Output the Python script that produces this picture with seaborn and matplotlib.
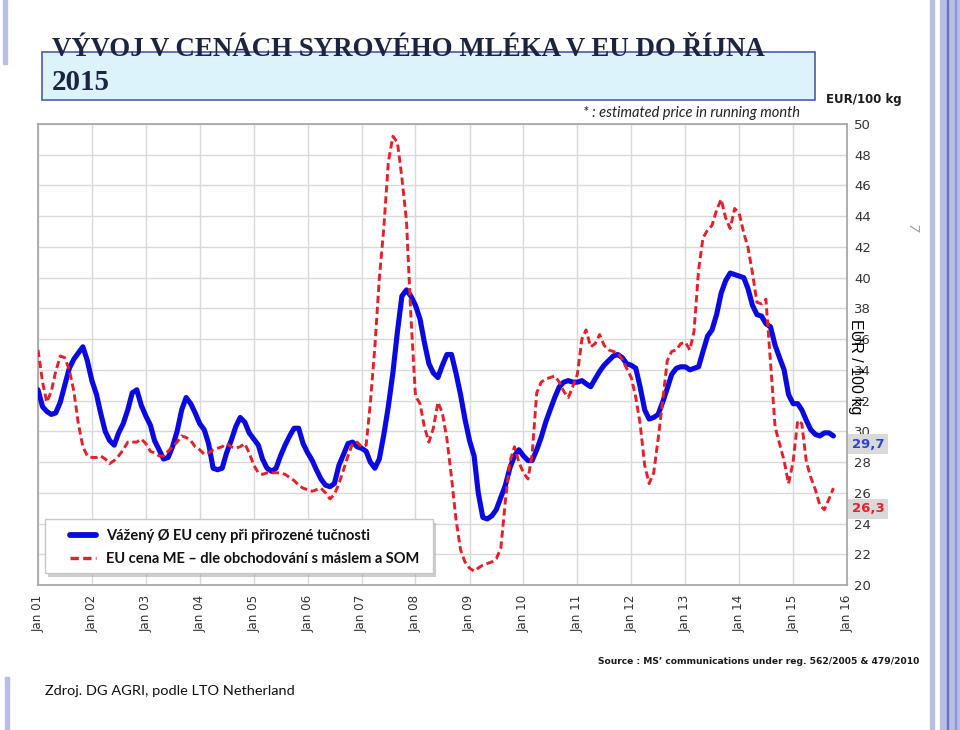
import numpy as np
import pandas as pd
import matplotlib
matplotlib.use("Agg")
import matplotlib.pyplot as plt
import seaborn as sns
from matplotlib.patches import Rectangle
from matplotlib.lines import Line2D
from matplotlib.font_manager import FontProperties

# ---------------- data (EUR / 100 kg, monthly, Jan 2001 - Oct 2015) ----------------
blue_2001 = [32.7, 31.6, 31.3, 31.1, 31.2, 31.9, 33.0, 34.1, 34.7, 35.1, 35.5, 34.6]
blue_2002 = [33.3, 32.4, 31.2, 30.0, 29.4, 29.1, 29.9, 30.5, 31.4, 32.5, 32.7, 31.7]
blue_2003 = [31.0, 30.4, 29.4, 28.8, 28.2, 28.3, 29.0, 30.0, 31.4, 32.2, 31.8, 31.2]
blue_2004 = [30.5, 30.1, 29.2, 27.6, 27.5, 27.6, 28.6, 29.4, 30.3, 30.9, 30.6, 29.9]
blue_2005 = [29.5, 29.1, 28.2, 27.6, 27.4, 27.6, 28.4, 29.1, 29.7, 30.2, 30.2, 29.2]
blue_2006 = [28.6, 28.1, 27.5, 26.9, 26.5, 26.4, 26.6, 27.8, 28.5, 29.2, 29.3, 29.0]
blue_2007 = [28.9, 28.7, 28.0, 27.6, 28.2, 29.8, 31.6, 33.8, 36.5, 38.8, 39.2, 38.8]
blue_2008 = [38.2, 37.3, 35.8, 34.4, 33.8, 33.5, 34.3, 35.0, 35.0, 33.8, 32.4, 30.8]
blue_2009 = [29.4, 28.4, 26.0, 24.4, 24.3, 24.5, 24.9, 25.7, 26.5, 27.6, 28.4, 28.8]
blue_2010 = [28.4, 28.1, 28.1, 28.8, 29.6, 30.6, 31.4, 32.2, 32.9, 33.2, 33.3, 33.2]
blue_2011 = [33.2, 33.3, 33.1, 32.9, 33.4, 33.9, 34.3, 34.6, 34.9, 35.0, 34.8, 34.4]
blue_2012 = [34.3, 34.1, 32.9, 31.4, 30.8, 30.9, 31.1, 31.9, 32.8, 33.7, 34.1, 34.2]
blue_2013 = [34.2, 34.0, 34.1, 34.2, 35.2, 36.2, 36.6, 37.6, 39.0, 39.8, 40.3, 40.2]
blue_2014 = [40.1, 40.0, 39.3, 38.2, 37.6, 37.5, 37.0, 36.8, 35.6, 34.8, 34.0, 32.4]
blue_2015 = [31.8, 31.8, 31.4, 30.7, 30.1, 29.8, 29.7, 29.9, 29.9, 29.7]

red_2001 = [35.3, 33.2, 31.9, 32.6, 33.9, 34.9, 34.8, 34.0, 32.6, 30.5, 29.0, 28.4]
red_2002 = [28.3, 28.3, 28.4, 28.2, 27.9, 28.1, 28.4, 28.8, 29.3, 29.3, 29.3, 29.5]
red_2003 = [29.2, 28.7, 28.6, 28.4, 28.4, 28.7, 29.0, 29.3, 29.7, 29.6, 29.4, 29.0]
red_2004 = [28.8, 28.5, 28.6, 28.8, 28.9, 29.0, 29.2, 29.0, 28.9, 29.0, 29.2, 28.6]
red_2005 = [27.8, 27.3, 27.2, 27.3, 27.3, 27.3, 27.3, 27.2, 27.0, 26.8, 26.5, 26.3]
red_2006 = [26.2, 26.1, 26.2, 26.3, 26.0, 25.6, 25.9, 26.6, 27.5, 28.4, 29.2, 29.3]
red_2007 = [29.0, 29.1, 31.8, 35.5, 39.9, 43.3, 47.5, 49.2, 48.8, 46.5, 43.7, 37.5]
red_2008 = [32.3, 31.8, 30.3, 29.3, 30.2, 31.9, 31.2, 29.5, 27.0, 24.3, 22.3, 21.5]
red_2009 = [21.1, 20.9, 21.1, 21.3, 21.4, 21.5, 21.7, 22.4, 25.5, 28.0, 29.0, 28.0]
red_2010 = [27.3, 26.9, 28.5, 32.5, 33.2, 33.4, 33.5, 33.6, 33.2, 32.6, 32.2, 32.9]
red_2011 = [33.7, 36.0, 36.6, 35.5, 35.7, 36.3, 35.6, 35.3, 35.2, 35.1, 34.7, 34.1]
red_2012 = [33.5, 32.2, 30.5, 27.8, 26.6, 27.3, 29.5, 32.0, 34.6, 35.2, 35.3, 35.7]
red_2013 = [35.8, 35.3, 36.5, 40.5, 42.6, 43.1, 43.4, 44.4, 45.1, 43.9, 43.2, 44.5]
red_2014 = [44.2, 42.9, 42.0, 40.3, 38.4, 38.3, 38.6, 34.5, 30.3, 29.2, 28.1, 26.6]
red_2015 = [28.0, 30.7, 30.5, 28.0, 27.0, 26.2, 25.2, 24.9, 25.6, 26.3]

blue = (blue_2001 + blue_2002 + blue_2003 + blue_2004 + blue_2005 + blue_2006 + blue_2007 +
        blue_2008 + blue_2009 + blue_2010 + blue_2011 + blue_2012 + blue_2013 + blue_2014 + blue_2015)
red = (red_2001 + red_2002 + red_2003 + red_2004 + red_2005 + red_2006 + red_2007 +
       red_2008 + red_2009 + red_2010 + red_2011 + red_2012 + red_2013 + red_2014 + red_2015)

x_labels = ["Jan 01", "Jan 02", "Jan 03", "Jan 04", "Jan 05", "Jan 06", "Jan 07", "Jan 08",
            "Jan 09", "Jan 10", "Jan 11", "Jan 12", "Jan 13", "Jan 14", "Jan 15", "Jan 16"]
y_ticks = [20, 22, 24, 26, 28, 30, 32, 34, 36, 38, 40, 42, 44, 46, 48, 50]
legend_labels = ["Vážený Ø EU ceny při přirozené tučnosti",
                 "EU cena ME – dle obchodování s máslem a SOM"]
last_blue_label = "29,7"
last_red_label = "26,3"

months = pd.date_range("2001-01-01", periods=len(blue), freq="MS")
df = pd.DataFrame({"date": months, "blue": blue, "red": red})

# ---------------- style ----------------
sns.set_theme(style="white")
plt.rcParams["font.family"] = ["DejaVu Sans"]

W, H = 960, 730
fig = plt.figure(figsize=(W / 100, H / 100), dpi=100)
fig.patch.set_facecolor("white")


def fx(x):
    return x / W


def fy(y):
    return 1 - y / H


BLUE = "#0A0AE0"
RED = "#E3202B"
RED_DASH = (0, (2.5, 1.3))

ax = fig.add_axes([fx(38), fy(585), (847 - 38) / W, (585 - 124) / H])
sns.lineplot(data=df, x="date", y="blue", ax=ax, color=BLUE, lw=3.7,
             solid_capstyle="round", solid_joinstyle="round", zorder=3)
sns.lineplot(data=df, x="date", y="red", ax=ax, color=RED, lw=2.1,
             linestyle=RED_DASH, zorder=4)

ax.set_xlim(pd.Timestamp("2001-01-01"), pd.Timestamp("2016-01-01"))
ax.set_ylim(20, 50)
ax.set_xticks(pd.date_range("2001-01-01", "2016-01-01", freq="YS"))
ax.set_xticklabels(x_labels, rotation=90, fontsize=8.6, color="#333333")
ax.set_yticks(y_ticks)
ax.set_yticklabels([str(v) for v in y_ticks], fontsize=9.5, color="#333333")
ax.yaxis.tick_right()
ax.tick_params(axis="both", length=0)
ax.tick_params(axis="x", pad=7)
ax.tick_params(axis="y", pad=5)
ax.grid(True, color="#D9D9D9", lw=1.0)
ax.set_xlabel("")
ax.set_ylabel("")
for s in ax.spines.values():
    s.set_color("#A8A8A8")
    s.set_linewidth(1.3)
if ax.get_legend() is not None:
    ax.get_legend().remove()

renderer = fig.canvas.get_renderer()


def fit(t, width_px):
    bb = t.get_window_extent(renderer)
    t.set_fontsize(t.get_fontsize() * width_px / bb.width)


# ---------------- decorations ----------------
fig.patches.append(Rectangle((fx(930), 0), 4 / W, 1, transform=fig.transFigure,
                             color="#B8BEE4", zorder=0))
fig.patches.append(Rectangle((fx(940), 0), 20 / W, 1, transform=fig.transFigure,
                             color="#B8BEE4", zorder=0))
fig.patches.append(Rectangle((fx(946.5), 0), 1.8 / W, 1, transform=fig.transFigure,
                             color="#6A72C6", zorder=0))
fig.patches.append(Rectangle((fx(955), 0), 1.2 / W, 1, transform=fig.transFigure,
                             color="#8E95D8", zorder=0))
fig.patches.append(Rectangle((fx(3), fy(64)), 4 / W, 64 / H, transform=fig.transFigure,
                             color="#B8BEE4", zorder=0))
fig.patches.append(Rectangle((fx(5), 0), 4 / W, 53 / H, transform=fig.transFigure,
                             color="#B8BEE4", zorder=0))

# title box
fig.patches.append(Rectangle((fx(42), fy(100)), (815 - 42) / W, 48 / H, transform=fig.transFigure,
                             facecolor="#DDF3FB", edgecolor="#4C5BA8", lw=1.2, zorder=1))
t1 = fig.text(fx(52), fy(56), "VÝVOJ V CENÁCH SYROVÉHO MLÉKA V EU DO ŘÍJNA",
              family=["Liberation Serif", "DejaVu Serif"], weight="bold", fontsize=20,
              color="#1B2440", va="baseline", ha="left", zorder=5)
fit(t1, 713)
t2 = fig.text(fx(52), fy(90), "2015", family=["Liberation Serif", "DejaVu Serif"],
              weight="bold", fontsize=t1.get_fontsize() * 1.08, color="#1B2440",
              va="baseline", ha="left", zorder=5)

t3 = fig.text(fx(826), fy(100), "EUR/100 kg", weight="bold", fontsize=9,
              color="#1A1A1A", va="center", ha="left")
fit(t3, 76)
t4 = fig.text(fx(583), fy(113), "* : estimated price in running month", style="italic",
              family=["Lato", "DejaVu Sans"], fontsize=10, color="#222222",
              va="center", ha="left")
fit(t4, 217)
t5 = fig.text(fx(598), fy(661), "Source : MS’ communications under reg. 562/2005 & 479/2010",
              weight="bold", fontsize=8, color="#1A1A1A", va="center", ha="left")
fit(t5, 322)
t6 = fig.text(fx(45), fy(691), "Zdroj. DG AGRI, podle LTO Netherland",
              family=["Lato", "DejaVu Sans"], fontsize=12, color="#111111",
              va="center", ha="left")
fit(t6, 248)

fig.text(fx(856), fy(367), "EUR / 100 kg", family=["Liberation Sans", "DejaVu Sans"],
         fontsize=11.5, rotation=-90, color="#000000", va="center", ha="center", zorder=6)
fig.text(fx(912), fy(228), "7", fontsize=10, rotation=-90, style="italic",
         color="#A0A0A0", va="center", ha="center")

# last values
fig.text(fx(868), fy(444), last_blue_label, weight="bold", fontsize=9.5, color="#2B45C8",
         va="center", ha="center",
         bbox=dict(boxstyle="square,pad=0.25", facecolor="#D9D9D9", edgecolor="none"))
fig.text(fx(868), fy(509), last_red_label, weight="bold", fontsize=9.5, color="#E3202B",
         va="center", ha="center",
         bbox=dict(boxstyle="square,pad=0.25", facecolor="#D9D9D9", edgecolor="none"))

# legend box with shadow
fig.patches.append(Rectangle((fx(48), fy(577)), (433 - 45) / W, 54 / H, transform=fig.transFigure,
                             facecolor="#9A9A9A", edgecolor="none", alpha=0.5, zorder=7))
fig.patches.append(Rectangle((fx(45), fy(573)), (433 - 45) / W, 54 / H, transform=fig.transFigure,
                             facecolor="white", edgecolor="#C8C8C8", lw=1.0, zorder=8))
handles = [Line2D([], [], color=BLUE, lw=4.2),
           Line2D([], [], color=RED, lw=2.4, linestyle=RED_DASH)]
leg = fig.legend(handles, legend_labels, loc="upper left",
                 bbox_to_anchor=(fx(70), fy(529)), frameon=False,
                 prop=FontProperties(family=["Lato", "DejaVu Sans"], weight="bold", size=10.5),
                 handlelength=1.75, handletextpad=0.75, labelspacing=0.62,
                 borderpad=0, borderaxespad=0)
leg.set_zorder(9)
for txt in leg.get_texts():
    txt.set_color("#111111")

fig.savefig("out.png", dpi=100, facecolor="white")
